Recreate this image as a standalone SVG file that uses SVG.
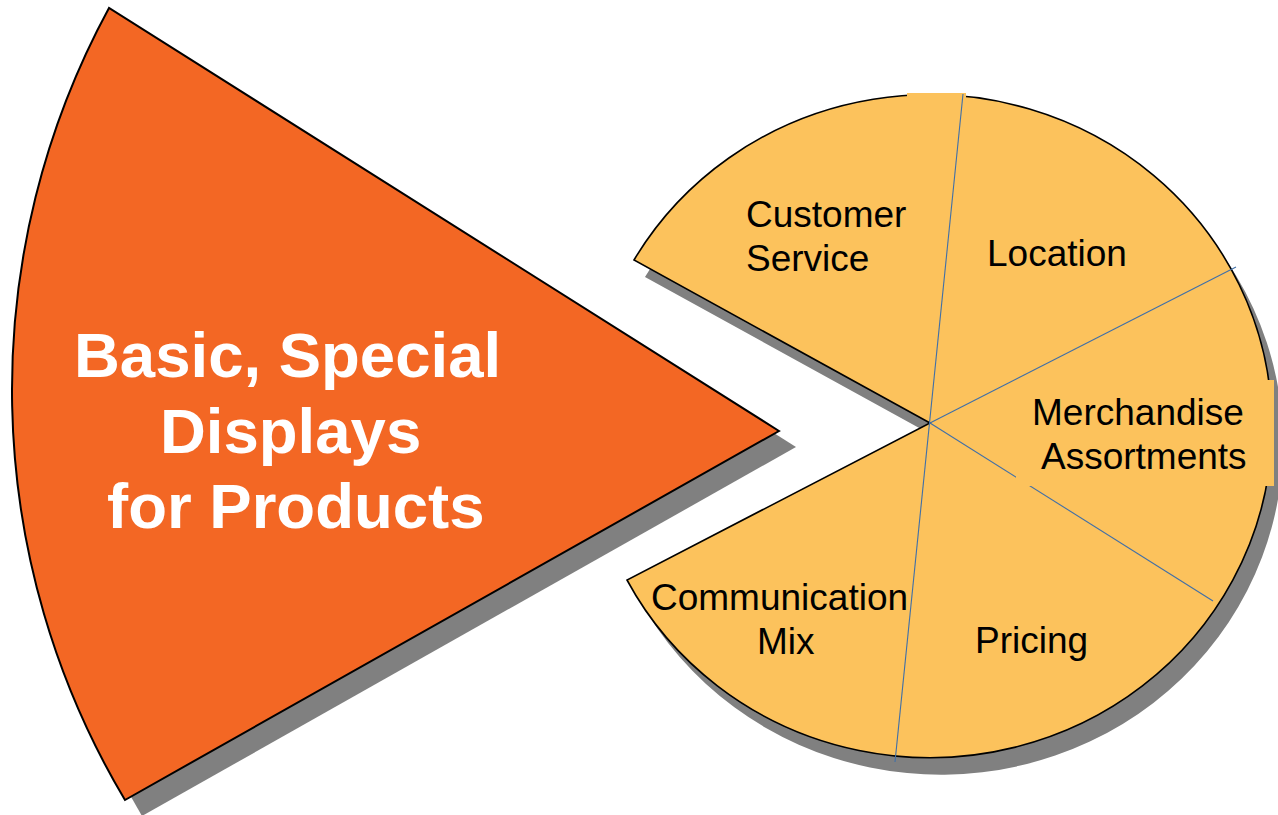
<svg xmlns="http://www.w3.org/2000/svg" width="1278" height="815" viewBox="0 0 1278 815">
<defs>
<style>
.shadow{fill:#808080;stroke:none}
.pie{fill:#FCC25C;stroke:#000;stroke-width:1.6}
.wedge{fill:#F36724;stroke:#000;stroke-width:2}
.div{stroke:#3F6FA8;stroke-width:1.1;fill:none}
.patch{fill:#FCC25C;stroke:none}
.lbl{font-family:"Liberation Sans",Arial,sans-serif;font-size:37px;fill:#000}
.title{font-family:"Liberation Sans",Arial,sans-serif;font-size:63.5px;font-weight:bold;fill:#fff}
</style>
<path id="piePath" d="M 930 423 L 634 260 A 342 331.5 0 1 1 627 580 Z"/>
<path id="wedgePath" d="M 779 431 L 109 8 A 800.5 800.5 0 0 0 125 800 Z"/>
</defs>
<rect width="1278" height="815" fill="#fff"/>
<g id="pie">
<use href="#piePath" class="shadow" transform="translate(11,17)"/>
<use href="#piePath" class="pie"/>
<rect class="patch" x="907" y="93" width="59" height="5"/>
</g>
<g id="connectors">
<line class="div" x1="963" y1="94" x2="895" y2="762"/>
<line class="div" x1="930" y1="423" x2="1236" y2="267"/>
<line class="div" x1="930" y1="423" x2="1213" y2="601"/>
</g>
<g id="merch-patch">
<rect class="patch" x="1016" y="380" width="258" height="106"/>
</g>
<g id="wedge">
<use href="#wedgePath" class="shadow" transform="translate(17,16)"/>
<use href="#wedgePath" class="wedge"/>
<text class="title" x="74" y="377">Basic, Special</text>
<text class="title" x="160" y="453">Displays</text>
<text class="title" x="107" y="528">for Products</text>
</g>
<g id="customer-service">
<text class="lbl" x="746" y="227">Customer</text>
<text class="lbl" x="746" y="271">Service</text>
</g>
<g id="location">
<text class="lbl" x="987" y="266">Location</text>
</g>
<g id="merchandise">
<text class="lbl" x="1032" y="425">Merchandise</text>
<text class="lbl" x="1041" y="469">Assortments</text>
</g>
<g id="pricing">
<text class="lbl" x="975" y="653">Pricing</text>
</g>
<g id="communication">
<text class="lbl" x="651" y="610">Communication</text>
<text class="lbl" x="757" y="654">Mix</text>
</g>
</svg>
